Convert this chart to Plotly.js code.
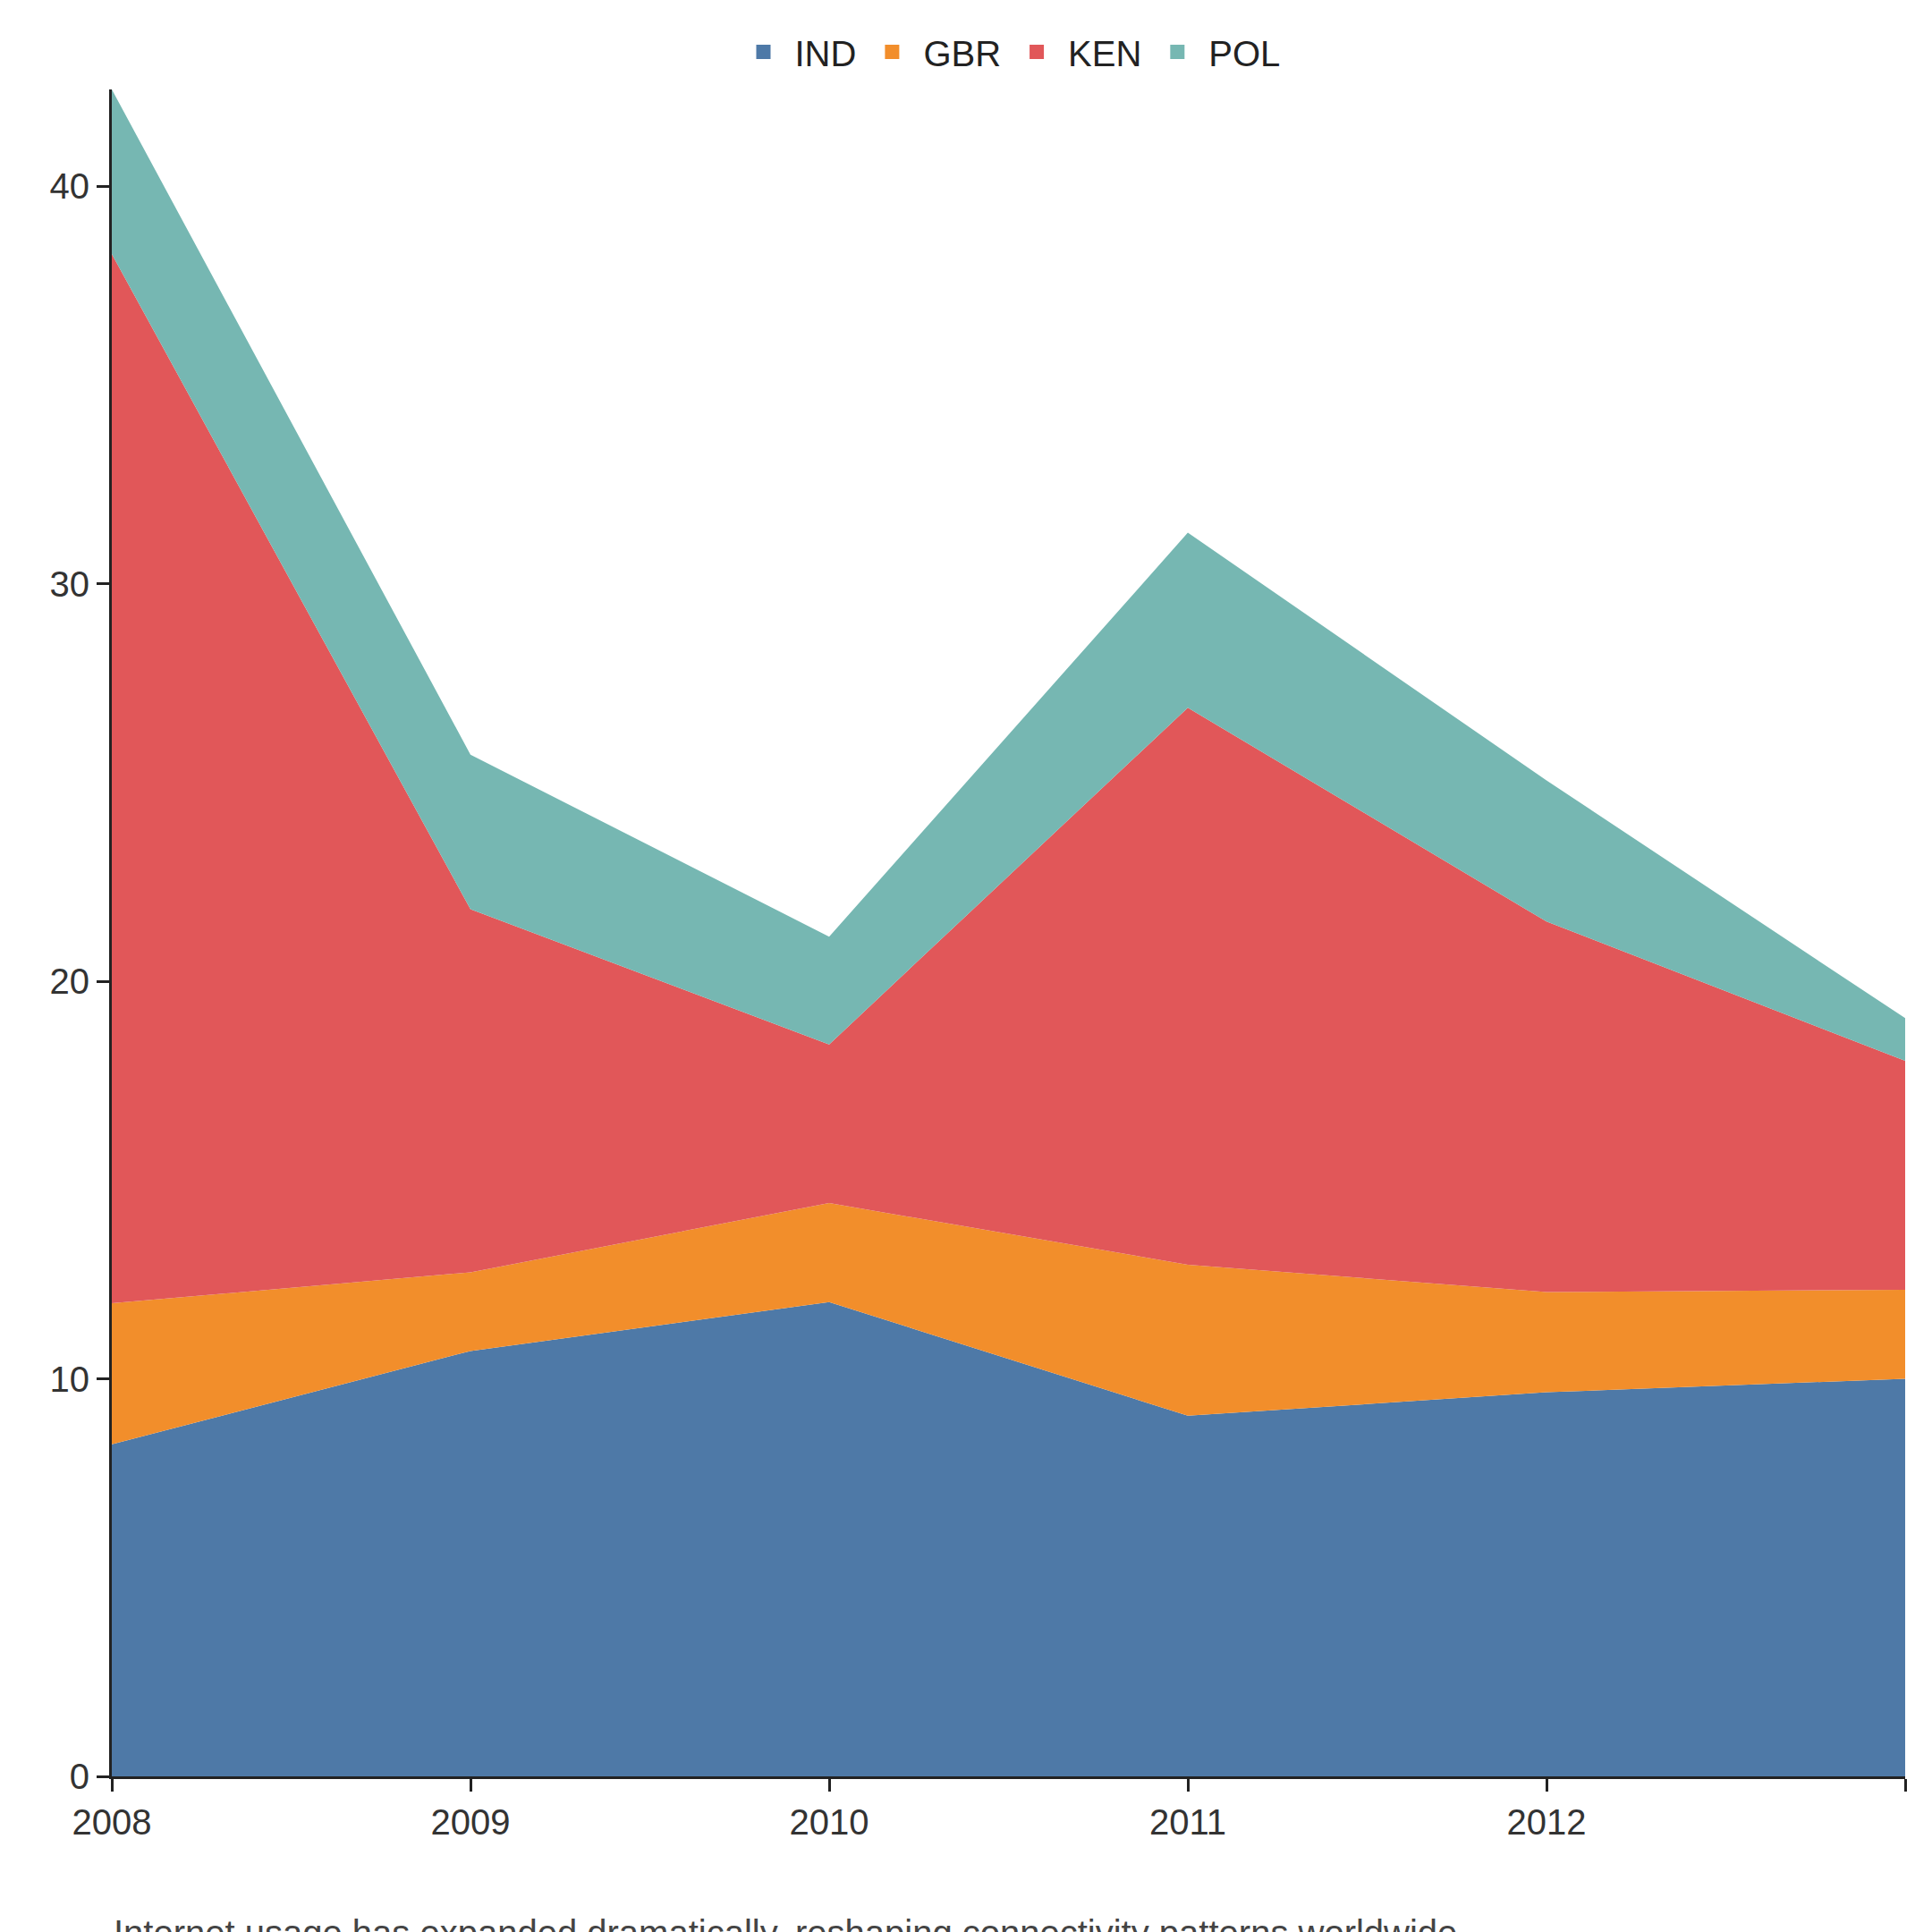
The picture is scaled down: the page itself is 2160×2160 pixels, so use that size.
<!DOCTYPE html>
<html><head><meta charset="utf-8">
<script src="https://cdn.plot.ly/plotly-3.0.1.min.js"></script>
<style>body{margin:0}</style></head><body>
<div id="c" style="width:2160px;height:2160px"></div>
<script>
const years=['2008','2009','2010','2011','2012','2013'];
const IND=[8.35,10.7,11.93,9.07,9.66,10.0];
const GBR=[3.55,1.98,2.49,3.8,2.52,2.24];
const KEN=[26.39,9.13,3.99,14.01,9.32,5.76];
const POL=[4.14,3.89,2.71,4.4,3.55,1.07];
const names=['IND','GBR','KEN','POL'];
const colors=['#4e79a7','#f28e2b','#e15759','#76b7b2'];
const series=[IND,GBR,KEN,POL];
const traces=series.map((s,i)=>({x:years.map(Number),y:s,name:names[i],type:'scatter',mode:'lines',
 stackgroup:'one',line:{width:0,color:colors[i]},fillcolor:colors[i],showlegend:false}));
names.forEach((n,i)=>traces.push({x:[null],y:[null],name:n,type:'scatter',mode:'markers',
 marker:{symbol:'square',size:30,color:colors[i]},showlegend:true}));
Plotly.newPlot('c',traces,{
 width:2160,height:2160,paper_bgcolor:'#fff',plot_bgcolor:'#fff',
 margin:{l:125,r:30,t:100,b:174},
 font:{family:'Liberation Sans, Arial',size:40,color:'#333'},
 showlegend:true,
 legend:{orientation:'h',x:0.5,xanchor:'center',y:1.005,yanchor:'bottom',font:{size:40,color:'#222'},traceorder:'normal',itemwidth:60,tracegroupgap:0},
 xaxis:{range:[2008,2013],tickvals:[2008,2009,2010,2011,2012,2013],ticktext:['2008','2009','2010','2011','2012','2013    '],showgrid:false,zeroline:false,
  showline:true,linecolor:'#222',linewidth:3,ticks:'outside',ticklen:14,tickwidth:3,tickcolor:'#222'},
 yaxis:{range:[0,42.43],tickvals:[0,10,20,30,40],showgrid:false,zeroline:false,
  showline:true,linecolor:'#222',linewidth:3,ticks:'outside',ticklen:14,tickwidth:3,tickcolor:'#222'},
 annotations:[{text:'Internet usage has expanded dramatically, reshaping connectivity patterns worldwide.',
  xref:'paper',yref:'paper',x:0,y:-0.08,xanchor:'left',yanchor:'top',showarrow:false,font:{size:40,color:'#444'}}]
},{displayModeBar:false});
</script></body></html>
